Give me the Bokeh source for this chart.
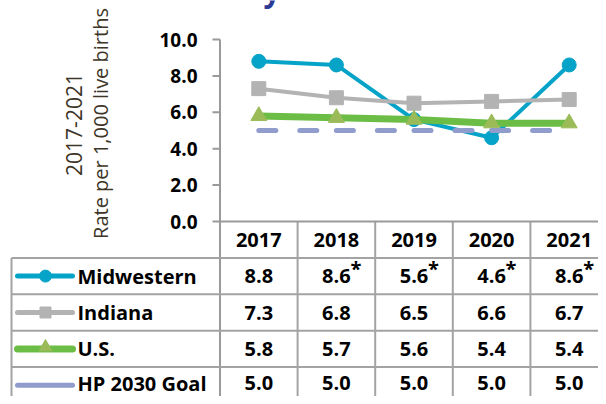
from bokeh.plotting import figure
from bokeh.models import Range1d
from bokeh.core.properties import value
from bokeh.embed import file_html
from bokeh.resources import INLINE
import math

# ---------------- data ----------------
years = [2017, 2018, 2019, 2020, 2021]
year_labels = ["2017", "2018", "2019", "2020", "2021"]
series_names = ["Midwestern", "Indiana", "U.S.", "HP 2030 Goal"]
midwestern = [8.8, 8.6, 5.6, 4.6, 8.6]
indiana = [7.3, 6.8, 6.5, 6.6, 6.7]
us = [5.8, 5.7, 5.6, 5.4, 5.4]
hp_goal = [5.0, 5.0, 5.0, 5.0, 5.0]
midwestern_flag = [False, True, True, True, True]
y_ticks = [0, 2, 4, 6, 8, 10]
y_tick_labels = ["0.0", "2.0", "4.0", "6.0", "8.0", "10.0"]
y_label_lines = ["2017-2021", "Rate per 1,000 live births"]
title_fragment = "y"

# ---------------- layout ----------------
W, H = 598, 396
PX_X = 77.6          # px per year
AXIS_CX = 219.5      # canvas x of category-axis start
PX_Y = 18.2          # px per unit
ZERO_CY = 221.0      # canvas y of value 0

x_start = (years[0] - 0.5) - AXIS_CX / PX_X
x_end = x_start + W / PX_X
y_end = ZERO_CY / PX_Y
y_start = y_end - H / PX_Y

def px2x(cx):
    return x_start + cx / PX_X

def px2y(cy):
    return y_end - cy / PX_Y

FONT = value("Open Sans")
GRID = "#a3a3a3"
AXIS = "#9a9a9a"
C_MW = "#06a3c8"
C_IN = "#b3b3b3"
C_US = "#6cbd46"
C_US_M = "#9bbb59"
C_HP = "#8f9ccc"

p = figure(width=W, height=H, output_backend="svg", toolbar_location=None,
           x_range=Range1d(x_start, x_end), y_range=Range1d(y_start, y_end),
           x_axis_type=None, y_axis_type=None, min_border=0)
p.grid.visible = False
p.outline_line_color = None
p.background_fill_color = "white"
p.border_fill_color = "white"

axis_x = years[0] - 0.5
col_edges = [y - 0.5 for y in years] + [years[-1] + 0.5]
row_count = len(series_names)
row_centers = [-3 - 2 * i for i in range(row_count)]
row_borders = [-2 - 2 * i for i in range(row_count)]
table_left = px2x(11)

# title fragment (cropped at the top edge, only the descender shows)
p.text(x=[px2x(263)], y=[px2y(-10)], text=[title_fragment], text_font=FONT,
       text_font_style="bold", text_font_size="30px", text_align="left",
       text_baseline="alphabetic", text_color="#2b3a92")

# ---------------- axes (as glyphs) ----------------
p.segment(x0=[axis_x], y0=[y_ticks[-1]], x1=[axis_x], y1=[y_start],
          line_color=AXIS, line_width=2)
p.segment(x0=col_edges[1:], y0=[0] * 5, x1=col_edges[1:], y1=[y_start] * 5,
          line_color=GRID, line_width=2)
p.segment(x0=[axis_x], y0=[0], x1=[x_end], y1=[0], line_color=AXIS, line_width=2)
tick_len = 7.5 / PX_X
p.segment(x0=[axis_x - tick_len] * len(y_ticks), y0=y_ticks,
          x1=[axis_x] * len(y_ticks), y1=y_ticks, line_color=AXIS, line_width=2)
p.text(x=[px2x(197)] * len(y_ticks), y=y_ticks, text=y_tick_labels,
       text_font=FONT, text_font_style="bold", text_font_size="19px",
       text_align="right", text_baseline="middle", text_color="#000000")
p.text(x=[px2x(73.5)], y=[px2y(124)], text=[y_label_lines[0]],
       angle=math.pi / 2, text_font=FONT, text_font_size="21px",
       text_align="center", text_baseline="middle", text_color="#3d3527")
p.text(x=[px2x(100)], y=[px2y(123)], text=[y_label_lines[1]],
       angle=math.pi / 2, text_font=FONT, text_font_size="20px",
       text_align="center", text_baseline="middle", text_color="#3d3527")

# ---------------- table ----------------
p.segment(x0=[table_left] * row_count, y0=row_borders,
          x1=[x_end] * row_count, y1=row_borders, line_color=GRID, line_width=2)
p.segment(x0=[table_left], y0=[row_borders[0]], x1=[table_left], y1=[y_start],
          line_color=GRID, line_width=2)
p.text(x=years, y=[-1] * 5, text=year_labels, text_font=FONT,
       text_font_style="bold", text_font_size="20px", text_align="center",
       text_baseline="middle", text_color="#000000")

table_vals = [midwestern, indiana, us, hp_goal]
row_nudge = [0, 0, 0, -2]
for vals, yc, dy in zip(table_vals, row_centers, row_nudge):
    p.text(x=years, y=[yc] * 5, text=["%.1f" % v for v in vals], text_font=FONT,
           text_font_style="bold", text_font_size="20px", text_align="center",
           text_baseline="middle", text_color="#000000", y_offset=dy)
flag_x = [y for y, f in zip(years, midwestern_flag) if f]
p.text(x=flag_x, y=[row_centers[0]] * len(flag_x), text=["*"] * len(flag_x),
       x_offset=14, y_offset=-8, text_font=FONT, text_font_style="bold",
       text_font_size="20px", text_align="left", text_baseline="middle",
       text_color="#000000")

kx0, kx1, km = px2x(17), px2x(72), px2x(45)
key_colors = [C_MW, C_IN, C_US, C_HP]
key_widths = [5, 5, 7, 5]
for c, w, yc in zip(key_colors, key_widths, row_centers):
    p.segment(x0=[kx0], y0=[yc], x1=[kx1], y1=[yc], line_color=c,
              line_width=w, line_cap="round")
p.scatter(x=[km], y=[row_centers[0]], marker="circle", size=12,
          fill_color=C_MW, line_color=C_MW)
p.scatter(x=[km], y=[row_centers[1]], marker="square", size=11,
          fill_color=C_IN, line_color=C_IN)
p.scatter(x=[km], y=[row_centers[2] + 0.1], marker="triangle", size=13,
          fill_color=C_US_M, line_color=C_US_M)
for name, yc, dy in zip(series_names, row_centers, row_nudge):
    p.text(x=[px2x(77)], y=[yc], text=[name], text_font=FONT,
           text_font_style="bold", text_font_size="20px", text_align="left",
           text_baseline="middle", text_color="#000000", y_offset=dy)

# ---------------- series ----------------
p.line(years, midwestern, line_color=C_MW, line_width=4)
p.scatter(years, midwestern, marker="circle", size=14, fill_color=C_MW, line_color=C_MW)
p.line(years, indiana, line_color=C_IN, line_width=4)
p.scatter(years, indiana, marker="square", size=14, fill_color=C_IN, line_color=C_IN)
p.line(years, us, line_color=C_US, line_width=7)
p.scatter(years, us, marker="triangle", size=16, fill_color=C_US_M, line_color=C_US_M)
p.segment(x0=years[:-1], y0=hp_goal[:-1], x1=years[1:], y1=hp_goal[1:],
          line_color=C_HP, line_width=5, line_dash="17 24", line_cap="round")

open("out.html", "w").write(file_html(p, INLINE))
